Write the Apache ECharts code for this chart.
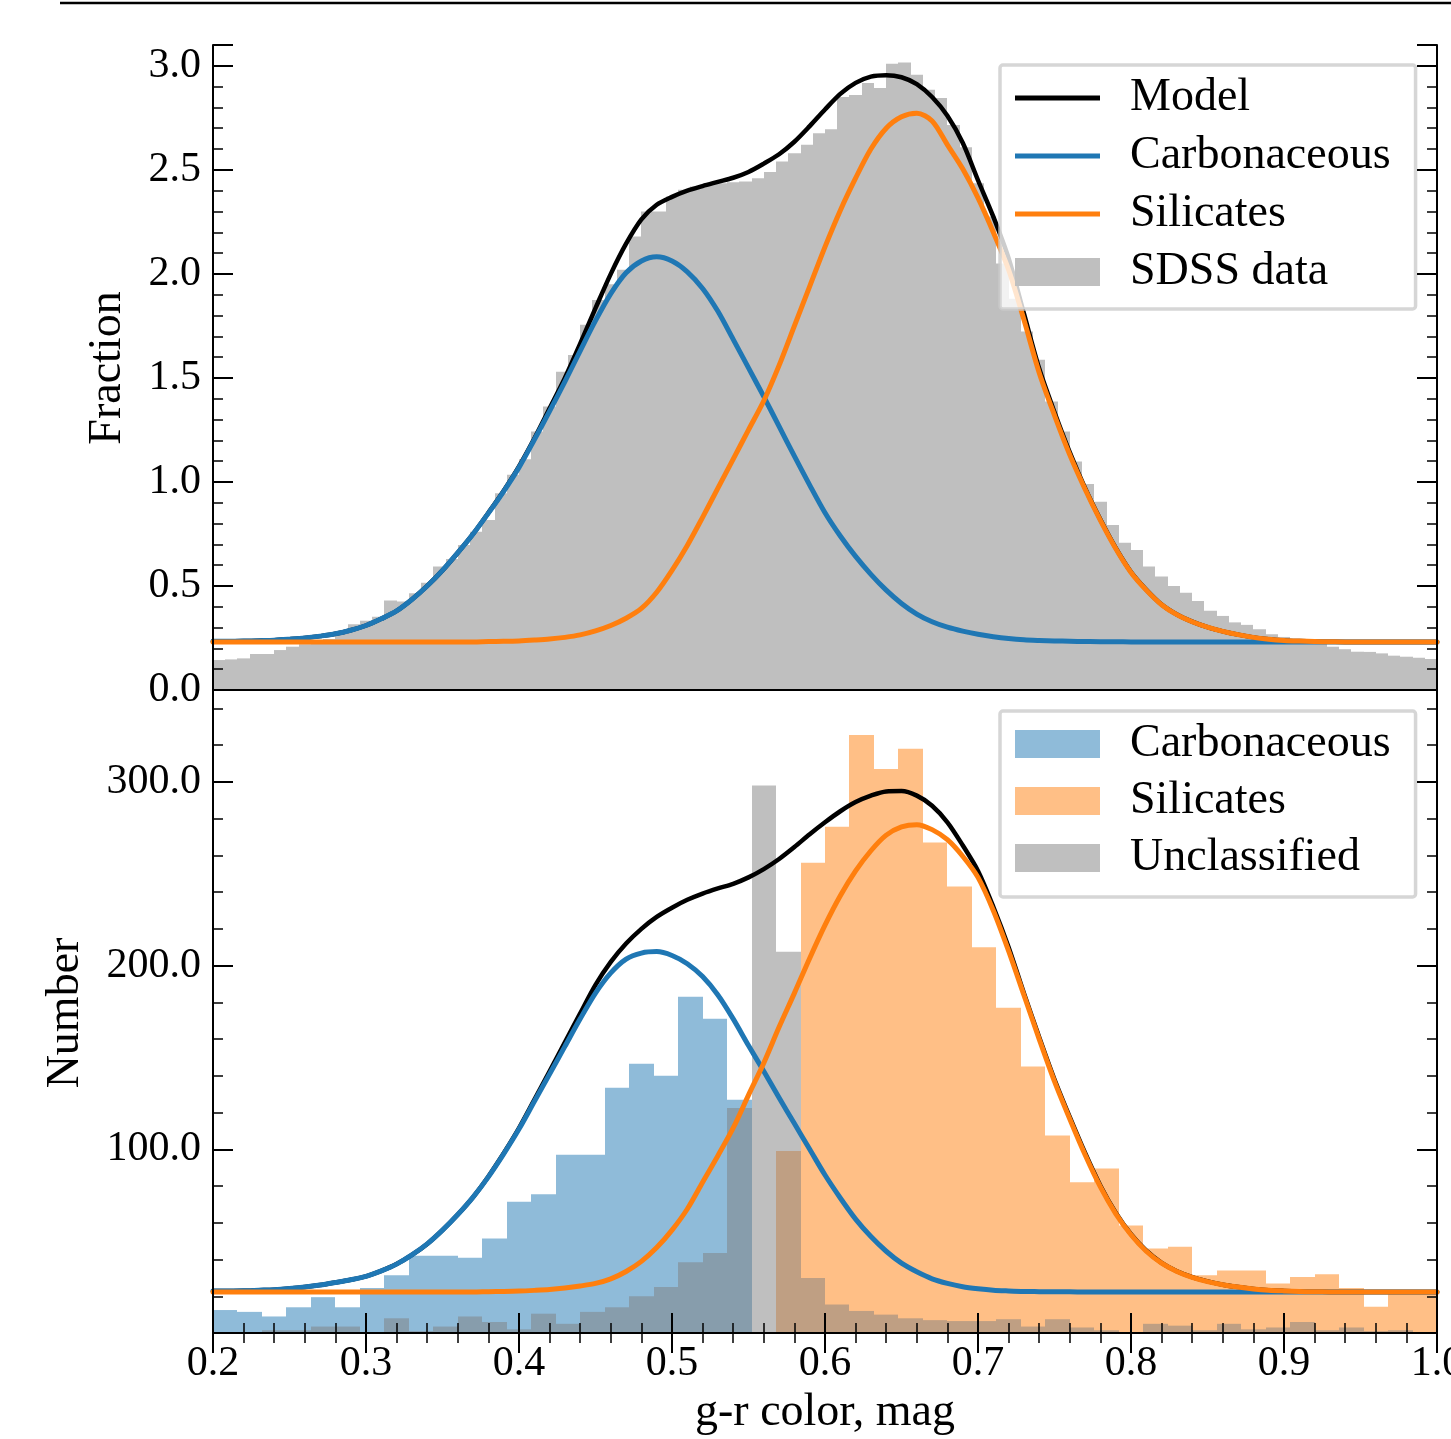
<!DOCTYPE html>
<html>
<head>
<meta charset="utf-8">
<title>g-r color distribution</title>
<script src="https://cdn.jsdelivr.net/npm/echarts@6.0.0/dist/echarts.min.js"></script>
<style>
  html, body { margin: 0; padding: 0; background: #fff; }
  #chart { width: 1451px; height: 1439px; }
</style>
</head>
<body>
<div id="chart"></div>
<script>
const FONT = '"Liberation Serif", "Times New Roman", serif'

// both histograms are binned evenly over this g-r range
const xRange = [0.2, 1.0]

// top panel: SDSS data, 100 bins
const sdssFraction = [
  0.144, 0.147, 0.152, 0.173, 0.173, 0.192, 0.208, 0.220, 0.232, 0.245,
  0.270, 0.316, 0.333, 0.352, 0.430, 0.425, 0.465, 0.516, 0.593, 0.630,
  0.697, 0.761, 0.817, 0.946, 1.034, 1.109, 1.242, 1.362, 1.530, 1.610,
  1.755, 1.875, 1.950, 2.020, 2.180, 2.300, 2.300, 2.372, 2.404, 2.420,
  2.428, 2.436, 2.440, 2.444, 2.460, 2.490, 2.540, 2.580, 2.620, 2.676,
  2.695, 2.850, 2.860, 2.917, 2.893, 3.010, 3.016, 2.957, 2.885, 2.845,
  2.716, 2.609, 2.436, 2.276, 2.050, 1.880, 1.723, 1.587, 1.386, 1.242,
  1.098, 0.990, 0.905, 0.793, 0.708, 0.673, 0.593, 0.545, 0.500, 0.468,
  0.428, 0.381, 0.356, 0.325, 0.313, 0.292, 0.268, 0.255, 0.244, 0.232,
  0.221, 0.208, 0.196, 0.184, 0.183, 0.176, 0.165, 0.160, 0.155, 0.149
]

// bottom panel: classified counts, 50 bins
const carbCounts = [
  12.5, 11.5, 9, 14, 19.5, 14, 24.5, 31.5, 42, 42,
  41, 51.5, 71.5, 75.5, 97, 97, 133.5, 146.5, 140, 183,
  171, 127, 0, 0, 0, 0, 0, 0, 0, 0,
  0, 0, 0, 0, 0, 0, 0, 0, 0, 0,
  0, 0, 0, 0, 0, 0, 0, 0, 0, 0
]
const silCounts = [
  0, 0, 0, 0, 0, 0, 0, 0, 0, 0,
  0, 0, 0, 0, 0, 0, 0, 0, 0, 0,
  0, 0, 0, 99, 256, 275.5, 325.5, 307, 318, 267,
  243, 210, 177, 145, 107.5, 82, 89.5, 58.5, 46, 47,
  31.5, 34, 34, 27, 30.5, 32, 24.5, 14.3, 22, 22
]
const unclCounts = [
  0, 0, 1.5, 1.5, 3.5, 3.5, 0.5, 8, 1, 3.5,
  9, 6, 2, 10.5, 5, 11.5, 14, 20, 25, 38.5,
  43.5, 122.5, 298, 207.5, 30, 15.5, 12, 10, 8, 7,
  6.5, 6.5, 7.5, 3.5, 7.5, 3, 1.5, 0, 5, 4,
  1.5, 5, 2, 3, 6, 1.5, 3, 1, 1.5, 0
]

// fitted curves, read every 0.01 mag
const curveX = [
  0.20, 0.21, 0.22, 0.23, 0.24, 0.25, 0.26, 0.27, 0.28, 0.29,
  0.30, 0.31, 0.32, 0.33, 0.34, 0.35, 0.36, 0.37, 0.38, 0.39,
  0.40, 0.41, 0.42, 0.43, 0.44, 0.45, 0.46, 0.47, 0.48, 0.49,
  0.50, 0.51, 0.52, 0.53, 0.54, 0.55, 0.56, 0.57, 0.58, 0.59,
  0.60, 0.61, 0.62, 0.63, 0.64, 0.65, 0.66, 0.67, 0.68, 0.69,
  0.70, 0.71, 0.72, 0.73, 0.74, 0.75, 0.76, 0.77, 0.78, 0.79,
  0.80, 0.81, 0.82, 0.83, 0.84, 0.85, 0.86, 0.87, 0.88, 0.89,
  0.90, 0.91, 0.92, 0.93, 0.94, 0.95, 0.96, 0.97, 0.98, 0.99,
  1.00
]
const modelTop = [
  0.234, 0.234, 0.235, 0.237, 0.239, 0.244, 0.250, 0.259, 0.270, 0.287,
  0.310, 0.342, 0.380, 0.435, 0.500, 0.575, 0.660, 0.750, 0.852, 0.958,
  1.075, 1.209, 1.354, 1.500, 1.665, 1.835, 2.000, 2.145, 2.262, 2.332,
  2.370, 2.400, 2.422, 2.442, 2.462, 2.490, 2.530, 2.575, 2.635, 2.710,
  2.790, 2.865, 2.918, 2.948, 2.955, 2.945, 2.912, 2.850, 2.760, 2.630,
  2.450, 2.275, 2.075, 1.810, 1.545, 1.335, 1.142, 0.970, 0.819, 0.683,
  0.567, 0.482, 0.411, 0.363, 0.329, 0.302, 0.282, 0.266, 0.253, 0.244,
  0.238, 0.235, 0.233, 0.232, 0.231, 0.231, 0.231, 0.231, 0.231, 0.231,
  0.231
]
const carbTop = [
  0.234, 0.234, 0.235, 0.237, 0.239, 0.244, 0.250, 0.259, 0.270, 0.287,
  0.310, 0.342, 0.380, 0.435, 0.500, 0.575, 0.660, 0.750, 0.850, 0.955,
  1.070, 1.203, 1.340, 1.482, 1.630, 1.775, 1.905, 2.005, 2.062, 2.082,
  2.062, 2.010, 1.930, 1.820, 1.685, 1.548, 1.410, 1.267, 1.124, 0.985,
  0.852, 0.740, 0.642, 0.556, 0.480, 0.416, 0.365, 0.328, 0.302, 0.283,
  0.268, 0.256, 0.247, 0.241, 0.238, 0.236, 0.234, 0.233, 0.232, 0.232,
  0.231, 0.231, 0.231, 0.231, 0.231, 0.231, 0.231, 0.231, 0.231, 0.231,
  0.231, 0.231, 0.231, 0.231, 0.231, 0.231, 0.231, 0.231, 0.231, 0.231,
  0.231
]
const silTop = [
  0.231, 0.231, 0.231, 0.231, 0.231, 0.231, 0.231, 0.231, 0.231, 0.231,
  0.231, 0.231, 0.231, 0.231, 0.231, 0.231, 0.231, 0.231, 0.233, 0.234,
  0.236, 0.240, 0.245, 0.253, 0.265, 0.284, 0.310, 0.345, 0.392, 0.470,
  0.575, 0.695, 0.830, 0.970, 1.110, 1.250, 1.390, 1.560, 1.750, 1.940,
  2.130, 2.305, 2.460, 2.600, 2.700, 2.755, 2.772, 2.735, 2.620, 2.505,
  2.365, 2.200, 2.020, 1.780, 1.525, 1.320, 1.130, 0.965, 0.815, 0.680,
  0.565, 0.480, 0.410, 0.362, 0.328, 0.302, 0.282, 0.266, 0.253, 0.244,
  0.238, 0.235, 0.233, 0.232, 0.231, 0.231, 0.231, 0.231, 0.231, 0.231,
  0.231
]
const modelBottom = [
  22.8, 22.9, 23.0, 23.3, 23.6, 24.2, 25.0, 26.1, 27.5, 29.0,
  30.8, 33.8, 37.5, 42.5, 48.5, 56, 64.5, 74, 85.2, 97.8,
  111.5, 126.9, 142.4, 158.2, 174, 189.5, 202, 212, 220, 226.5,
  231.5, 235.8, 239.2, 242, 244.5, 248, 252.5, 258, 264.5, 271.5,
  278, 284, 289, 292.5, 294.8, 295, 292.5, 287, 278, 265.5,
  251.5, 232, 210, 185, 161, 138, 117.5, 98, 80.2, 65.5,
  53.8, 44.8, 38.2, 33.6, 30.4, 28.1, 26.3, 25, 24, 23.3,
  22.9, 22.6, 22.45, 22.35, 22.3, 22.3, 22.3, 22.3, 22.3, 22.3,
  22.3
]
const carbBottom = [
  22.8, 22.9, 23.0, 23.3, 23.6, 24.2, 25.0, 26.1, 27.5, 29.0,
  30.8, 33.8, 37.5, 42.5, 48.5, 56, 64.5, 74, 85, 97.5,
  111, 126, 141, 156, 171, 185, 196, 203.5, 206.8, 207.6,
  205.5, 201, 194, 184, 171, 156.5, 142.5, 128, 114, 100,
  86, 73.5, 62, 52.5, 44.5, 38, 33.3, 29.5, 27, 25.2,
  24.1, 23.3, 22.9, 22.6, 22.5, 22.4, 22.4, 22.3, 22.3, 22.3,
  22.3, 22.3, 22.3, 22.3, 22.3, 22.3, 22.3, 22.3, 22.3, 22.3,
  22.3, 22.3, 22.3, 22.3, 22.3, 22.3, 22.3, 22.3, 22.3, 22.3,
  22.3
]
const silBottom = [
  22.3, 22.3, 22.3, 22.3, 22.3, 22.3, 22.3, 22.3, 22.3, 22.3,
  22.3, 22.3, 22.3, 22.3, 22.3, 22.3, 22.3, 22.3, 22.5, 22.6,
  22.8, 23.2, 23.7, 24.5, 25.6, 27, 29.5, 33.5, 39, 46.5,
  56, 67.5, 82, 96.5, 111.6, 129.5, 147, 166.5, 185, 204,
  222, 238, 251.5, 262.5, 271, 275.5, 276.7, 274, 268.5, 259.5,
  248, 230, 208, 184, 160, 137, 116.5, 97, 79.5, 65,
  53.5, 44.5, 38, 33.5, 30.3, 28, 26.3, 25, 24, 23.3,
  22.9, 22.6, 22.45, 22.35, 22.3, 22.3, 22.3, 22.3, 22.3, 22.3,
  22.3
]

const chart = echarts.init(document.getElementById('chart'))

function bins(values) {
  const w = (xRange[1] - xRange[0]) / values.length
  return values.map((v, i) => [xRange[0] + i * w, xRange[0] + (i + 1) * w, v])
}

function pairs(ys) {
  return curveX.map((x, i) => [x, ys[i]])
}

function renderBar(params, api) {
  const p0 = api.coord([api.value(0), 0])
  const p1 = api.coord([api.value(1), api.value(2)])
  const x0 = Math.round(p0[0])
  const x1 = Math.round(p1[0])
  return {
    type: 'rect',
    shape: { x: x0, y: p1[1], width: x1 - x0, height: p0[1] - p1[1] },
    style: api.style()
  }
}

function hist(name, values, color, grid) {
  return {
    name: name,
    type: 'custom',
    xAxisIndex: grid === 0 ? 0 : 2,
    yAxisIndex: grid === 0 ? 0 : 4,
    renderItem: renderBar,
    itemStyle: { color: color },
    encode: { x: [0, 1], y: 2 },
    clip: true,
    silent: true,
    data: bins(values)
  }
}

function curve(name, ys, color, width, grid) {
  return {
    name: name,
    type: 'line',
    xAxisIndex: grid === 0 ? 0 : 2,
    yAxisIndex: grid === 0 ? 0 : 4,
    smooth: 0.3,
    symbol: 'none',
    showSymbol: false,
    itemStyle: { color: color },
    lineStyle: { color: color, width: width, join: 'round', cap: 'round' },
    silent: true,
    data: pairs(ys)
  }
}

const axisLine = { show: true, lineStyle: { color: '#000', width: 2 } }
const majorTick = { show: true, inside: true, length: 20, lineStyle: { color: '#000', width: 2 } }
const minorTick = { show: true, inside: true, length: 10, lineStyle: { color: '#000', width: 1.5 } }
const tickFont = { fontFamily: FONT, fontSize: 42, color: '#000' }

function onStep(v, step) {
  return Math.abs(v / step - Math.round(v / step)) < 1e-6
}

// one major + one minor axis per side, so the top partial interval gets no extra ticks
function yAxes(grid, max, major, minor, labelFmt) {
  const base = { type: 'value', gridIndex: grid, min: 0, max: max, splitLine: { show: false }, z: 10 }
  return [
    Object.assign({}, base, {
      position: 'left', interval: major, axisLine: axisLine, axisTick: majorTick,
      axisLabel: Object.assign({ margin: 12, formatter: labelFmt }, tickFont)
    }),
    Object.assign({}, base, {
      position: 'left', interval: minor, axisLine: { show: false }, axisTick: minorTick, axisLabel: { show: false }
    }),
    Object.assign({}, base, {
      position: 'right', interval: major, axisLine: axisLine, axisTick: majorTick, axisLabel: { show: false }
    }),
    Object.assign({}, base, {
      position: 'right', interval: minor, axisLine: { show: false }, axisTick: minorTick, axisLabel: { show: false }
    })
  ]
}

const xBase = { type: 'value', min: xRange[0], max: xRange[1], interval: 0.1, splitLine: { show: false }, z: 10 }
const lineIcon = 'path://M0,0H85V5H0Z'

const option = {
  animation: false,
  backgroundColor: '#fff',
  grid: [
    { left: 213, top: 45, width: 1224, height: 645, containLabel: false, outerBoundsMode: 'none' },
    { left: 213, top: 690, width: 1224, height: 643, containLabel: false, outerBoundsMode: 'none' }
  ],
  xAxis: [
    Object.assign({}, xBase, { gridIndex: 0, position: 'bottom', axisLine: axisLine, axisTick: { show: false }, axisLabel: { show: false } }),
    Object.assign({}, xBase, { gridIndex: 0, position: 'top', axisLine: axisLine, axisTick: { show: false }, axisLabel: { show: false } }),
    Object.assign({}, xBase, {
      gridIndex: 1, position: 'bottom', axisLine: axisLine, axisTick: majorTick,
      minorTick: { show: true, splitNumber: 5, length: 10, lineStyle: { color: '#000', width: 1.5 } },
      axisLabel: Object.assign({ margin: 10, formatter: v => v.toFixed(1) }, tickFont)
    }),
    Object.assign({}, xBase, {
      gridIndex: 1, position: 'top', axisLine: axisLine, axisTick: majorTick,
      minorTick: { show: true, splitNumber: 5, length: 10, lineStyle: { color: '#000', width: 1.5 } },
      axisLabel: { show: false }
    })
  ],
  yAxis: [].concat(
    yAxes(0, 3.1, 0.5, 0.1, v => onStep(v, 0.5) ? v.toFixed(1) : ''),
    yAxes(1, 350, 100, 20, v => (v > 0 && onStep(v, 100)) ? v.toFixed(1) : '')
  ),
  legend: [
    {
      orient: 'vertical', left: 1000, top: 65,
      padding: [10, 25, 14, 15],
      itemWidth: 85, itemHeight: 28, itemGap: 12,
      selectedMode: false,
      backgroundColor: 'rgba(255,255,255,0.8)',
      borderColor: 'rgba(204,204,204,0.8)', borderWidth: 3.5, borderRadius: 3,
      textStyle: { fontFamily: FONT, fontSize: 46, lineHeight: 46, color: '#000', padding: [0, 0, 0, 25] },
      data: [
        { name: 'Model', icon: lineIcon },
        { name: 'Carbonaceous', icon: lineIcon },
        { name: 'Silicates', icon: lineIcon },
        { name: 'SDSS data', icon: 'rect' }
      ]
    },
    {
      orient: 'vertical', left: 1000, top: 711,
      padding: [10, 25, 16, 15],
      itemWidth: 85, itemHeight: 28, itemGap: 11,
      selectedMode: false,
      backgroundColor: 'rgba(255,255,255,0.8)',
      borderColor: 'rgba(204,204,204,0.8)', borderWidth: 3.5, borderRadius: 3,
      textStyle: { fontFamily: FONT, fontSize: 46, lineHeight: 46, color: '#000', padding: [0, 0, 0, 25] },
      formatter: name => name.replace(' counts', ''),
      data: [
        { name: 'Carbonaceous counts', icon: 'rect' },
        { name: 'Silicates counts', icon: 'rect' },
        { name: 'Unclassified', icon: 'rect' }
      ]
    }
  ],
  graphic: [
    { type: 'line', shape: { x1: 60, y1: 3, x2: 1451, y2: 3 }, style: { stroke: '#000', lineWidth: 2.5 } },
    {
      type: 'text', x: 108, y: 368, rotation: Math.PI / 2,
      style: { text: 'Fraction', font: '46px ' + FONT, fill: '#000', align: 'center', verticalAlign: 'middle' }
    },
    {
      type: 'text', x: 66, y: 1013, rotation: Math.PI / 2,
      style: { text: 'Number', font: '46px ' + FONT, fill: '#000', align: 'center', verticalAlign: 'middle' }
    },
    {
      type: 'text', x: 825, y: 1413,
      style: { text: 'g-r color, mag', font: '46px ' + FONT, fill: '#000', align: 'center', verticalAlign: 'middle' }
    }
  ],
  series: [
    hist('SDSS data', sdssFraction, '#bfbfbf', 0),
    curve('Model', modelTop, '#000', 4.5, 0),
    curve('Carbonaceous', carbTop, '#1f77b4', 5, 0),
    curve('Silicates', silTop, '#ff7f0e', 5, 0),

    hist('Carbonaceous counts', carbCounts, '#8fbbd9', 1),
    hist('Silicates counts', silCounts, '#ffbf86', 1),
    hist('Unclassified', unclCounts, 'rgba(128,128,128,0.5)', 1),
    curve('Model N', modelBottom, '#000', 4.5, 1),
    curve('Carbonaceous N', carbBottom, '#1f77b4', 5, 1),
    curve('Silicates N', silBottom, '#ff7f0e', 5, 1)
  ]
}

chart.setOption(option)
</script>
</body>
</html>
